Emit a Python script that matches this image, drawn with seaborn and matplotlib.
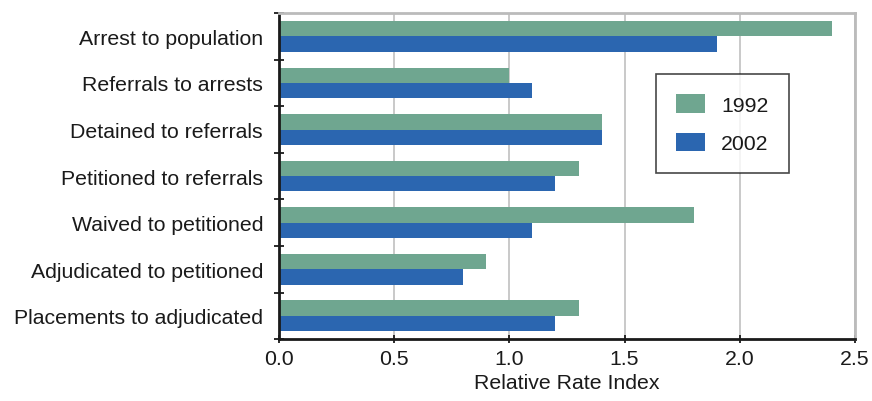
import pandas as pd
import matplotlib
matplotlib.use('Agg')
import matplotlib.pyplot as plt
import seaborn as sns

# data
stages = ['Arrest to population', 'Referrals to arrests', 'Detained to referrals',
          'Petitioned to referrals', 'Waived to petitioned', 'Adjudicated to petitioned',
          'Placements to adjudicated']
rri_1992 = [2.4, 1.0, 1.4, 1.3, 1.8, 0.9, 1.3]
rri_2002 = [1.9, 1.1, 1.4, 1.2, 1.1, 0.8, 1.2]
years = ['1992', '2002']
x_ticks = [0.0, 0.5, 1.0, 1.5, 2.0, 2.5]

df = pd.DataFrame({
    'stage': stages * 2,
    'rri': rri_1992 + rri_2002,
    'year': [years[0]] * len(stages) + [years[1]] * len(stages),
})

sns.set_style('white')
plt.rcParams['font.family'] = ['Liberation Sans', 'DejaVu Sans']
plt.rcParams['text.color'] = '#1a1a1a'
plt.rcParams['axes.labelcolor'] = '#1a1a1a'
plt.rcParams['xtick.color'] = '#1a1a1a'
plt.rcParams['ytick.color'] = '#1a1a1a'

fig = plt.figure(figsize=(8.72, 4.02), dpi=100)
ax = fig.add_axes([0.32, 0.154, 0.6605, 0.811])

sns.barplot(data=df, y='stage', x='rri', hue='year', hue_order=years, order=stages,
            palette=['#6FA690', '#2B66B0'], orient='h', width=0.66,
            saturation=1, linewidth=0, ax=ax, zorder=2)

ax.set_xlim(0, 2.5)
ax.set_ylim(len(stages) - 0.5, -0.5)
ax.set_xticks(x_ticks)
ax.set_xticklabels([f'{t:.1f}' for t in x_ticks], fontsize=15.3)
ax.set_xlabel('Relative Rate Index', fontsize=15.3, labelpad=4)
ax.set_ylabel('')
ax.tick_params(axis='y', which='major', left=False, length=0, labelsize=15.3, pad=11.5)
ax.set_yticks([i - 0.5 for i in range(len(stages) + 1)], minor=True)
ax.tick_params(axis='y', which='minor', left=True, direction='inout', length=7, width=1.3)
ax.tick_params(axis='x', which='major', bottom=True, direction='inout', length=6, width=1.3, pad=4)

ax.xaxis.grid(True, color='#C0C0C0', linewidth=1.2, zorder=0)
ax.set_axisbelow(True)
for side in ['left', 'bottom']:
    ax.spines[side].set_color('#1a1a1a')
    ax.spines[side].set_linewidth(2)
for side in ['top', 'right']:
    ax.spines[side].set_color('#BBBBBB')
    ax.spines[side].set_linewidth(2)

leg = ax.legend(loc='upper left', bbox_to_anchor=(0.655, 0.813), borderaxespad=0,
                fontsize=15.3, frameon=True, fancybox=False, handlelength=1.35,
                handleheight=0.95, labelspacing=0.85, borderpad=0.95, handletextpad=0.75)
leg.get_frame().set_edgecolor('#1a1a1a')
leg.get_frame().set_linewidth(1.2)

fig.savefig('out.png', dpi=100)
